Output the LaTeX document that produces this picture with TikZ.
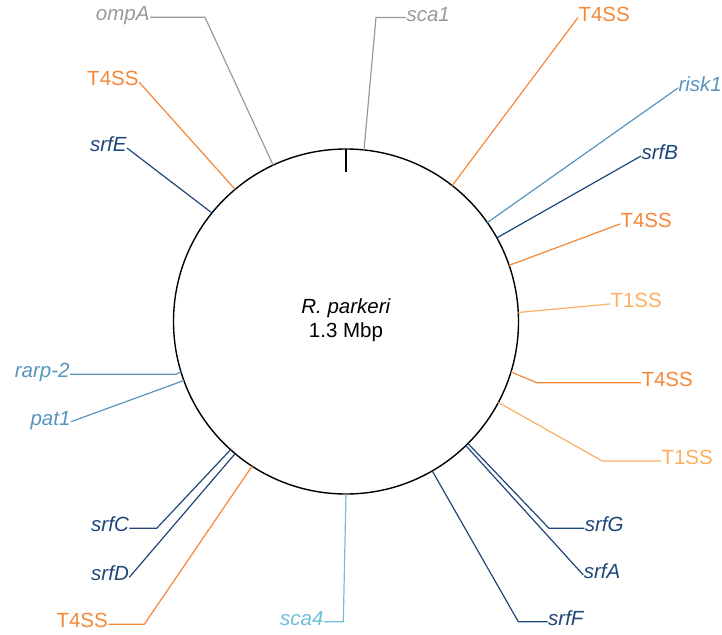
\documentclass[tikz,border=0pt]{standalone}
\usepackage{fontspec}
\setmainfont{Liberation Sans}
\definecolor{cgray}{RGB}{153,153,153}
\definecolor{corange}{RGB}{245,135,55}
\definecolor{clorange}{RGB}{253,174,97}
\definecolor{csteel}{RGB}{86,150,190}
\definecolor{cnavy}{RGB}{30,70,120}
\definecolor{clight}{RGB}{110,190,220}
\tikzset{
  lbl/.style={inner sep=0.5pt, outer sep=0pt, text height=0.72em, text depth=0pt, font=\fontsize{20.5}{24.6}\selectfont},
  gene/.style={lbl, font=\fontsize{20.5}{24.6}\selectfont\itshape},
  conn/.style={line width=1.2pt},
}
\begin{document}
\begin{tikzpicture}[x=1pt,y=-1pt]
\useasboundingbox (0,0) rectangle (722,634);
% genome circle
\node[circle, draw, line width=1.4pt, minimum size=345pt, inner sep=0pt, outer sep=0pt] (c) at (346,321.5) {};
\coordinate (tickA) at (346,149);
\coordinate (tickB) at (346,171.7);
\draw[line width=1.4pt] (tickA) -- (tickB);
\node[align=center, font=\fontsize{20.5}{24.6}\selectfont] (title) at (346,320) {\textit{R. parkeri}\\1.3 Mbp};

% labels left
\node[gene, anchor=east, text=cgray] (ompA) at (150,17.3) {ompA};
\node[lbl, anchor=east, text=corange] (t4tl) at (139,82) {T4SS};
\node[gene, anchor=east, text=cnavy] (srfE) at (127,148) {srfE};
\node[gene, anchor=east, text=csteel] (rarp) at (70,374.3) {rarp-2};
\node[gene, anchor=east, text=csteel] (pat1) at (71,421.7) {pat1};
\node[gene, anchor=east, text=cnavy] (srfC) at (129.3,528.3) {srfC};
\node[gene, anchor=east, text=cnavy] (srfD) at (129.3,577.3) {srfD};
\node[lbl, anchor=east, text=corange] (t4bl) at (108.3,624.3) {T4SS};
\node[gene, anchor=east, text=clight] (sca4) at (324,621.7) {sca4};
% labels right
\node[gene, anchor=west, text=cgray] (sca1) at (406,17.5) {sca1};
\node[lbl, anchor=west, text=corange] (t4tr) at (578,17.5) {T4SS};
\node[gene, anchor=west, text=csteel] (risk1) at (678,88) {risk1};
\node[gene, anchor=west, text=cnavy] (srfB) at (641,156) {srfB};
\node[lbl, anchor=west, text=corange] (t4r2) at (620,224) {T4SS};
\node[lbl, anchor=west, text=clorange] (t1a) at (610,304) {T1SS};
\node[lbl, anchor=west, text=corange] (t4r3) at (641,382.7) {T4SS};
\node[lbl, anchor=west, text=clorange] (t1b) at (661,461) {T1SS};
\node[gene, anchor=west, text=cnavy] (srfG) at (584.3,528.3) {srfG};
\node[gene, anchor=west, text=cnavy] (srfA) at (583.3,575) {srfA};
\node[gene, anchor=west, text=cnavy] (srfF) at (547.7,621.7) {srfF};

% elbows
\coordinate (eompA) at (205,17.3);
\coordinate (esca1) at (376,17.5);
\coordinate (et4r3) at (536.7,382.7);
\coordinate (et1b) at (602.3,461);
\coordinate (esrfG) at (549,528.3);
\coordinate (esrfF) at (518.3,621.7);
\coordinate (esca4) at (343.3,621.7);
\coordinate (erarp) at (175.7,374.3);
\coordinate (esrfC) at (156.7,528.3);
\coordinate (et4bl) at (144.3,624.3);

% connectors
\draw[conn, cgray] (c.115.1) -- (eompA) -- (ompA.east);
\draw[conn, cgray] (c.84.5) -- (esca1) -- (sca1.west);
\draw[conn, corange] (c.130.96) -- (t4tl.east);
\draw[conn, cnavy] (c.141.4) -- (srfE.east);
\draw[conn, corange] (c.52.6) -- (t4tr.west);
\draw[conn, csteel] (c.35.2) -- (risk1.west);
\draw[conn, cnavy] (c.29.4) -- (srfB.west);
\draw[conn, corange] (c.19.3) -- (t4r2.west);
\draw[conn, clorange] (c.3.8) -- (t1a.west);
\draw[conn, corange] (c.-17.7) -- (et4r3) -- (t4r3.west);
\draw[conn, clorange] (c.-28.4) -- (et1b) -- (t1b.west);
\draw[conn, cnavy] (c.-45.3) -- (esrfG) -- (srfG.west);
\draw[conn, cnavy] (c.-46.6) -- (srfA.west);
\draw[conn, cnavy] (c.-60.3) -- (esrfF) -- (srfF.west);
\draw[conn, clight] (c.-90.9) -- (esca4) -- (sca4.east);
\draw[conn, corange] (c.-123.6) -- (et4bl) -- (t4bl.east);
\draw[conn, cnavy] (c.-130.9) -- (srfD.east);
\draw[conn, cnavy] (c.-132.5) -- (esrfC) -- (srfC.east);
\draw[conn, csteel] (c.200.4) -- (pat1.east);
\draw[conn, csteel] (c.197.2) -- (erarp) -- (rarp.east);
\end{tikzpicture}
\end{document}
